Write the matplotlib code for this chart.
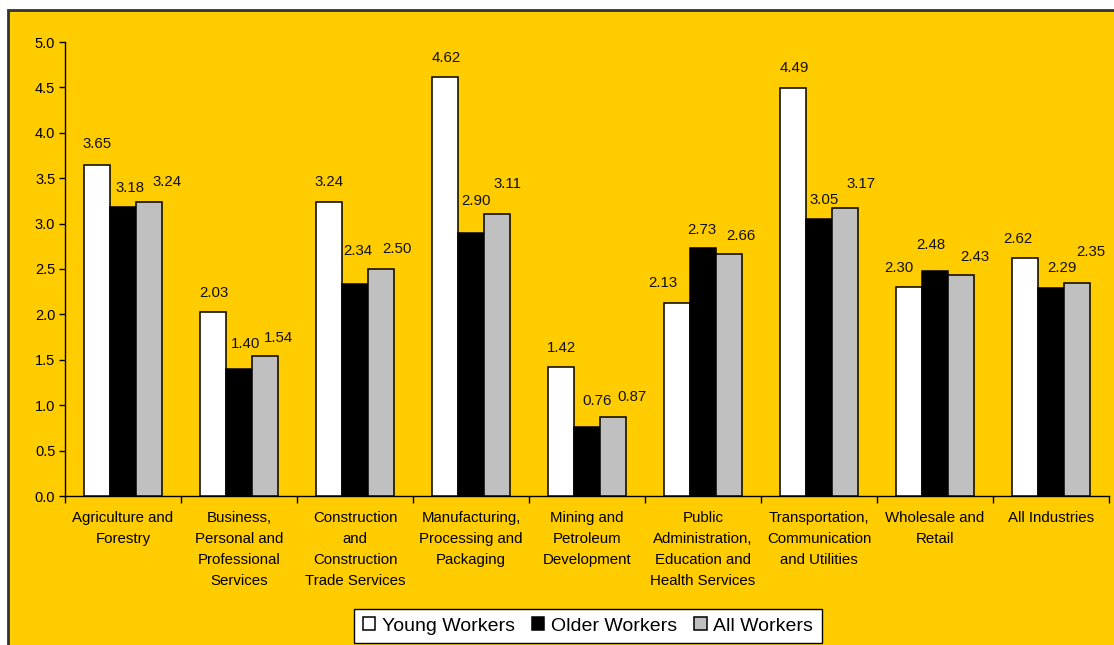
import matplotlib
matplotlib.use("Agg")
import matplotlib.pyplot as plt
from matplotlib.patches import Rectangle
import numpy as np

categories = [
    "Agriculture and\nForestry",
    "Business,\nPersonal and\nProfessional\nServices",
    "Construction\nand\nConstruction\nTrade Services",
    "Manufacturing,\nProcessing and\nPackaging",
    "Mining and\nPetroleum\nDevelopment",
    "Public\nAdministration,\nEducation and\nHealth Services",
    "Transportation,\nCommunication\nand Utilities",
    "Wholesale and\nRetail",
    "All Industries",
]
young = [3.65, 2.03, 3.24, 4.62, 1.42, 2.13, 4.49, 2.30, 2.62]
older = [3.18, 1.40, 2.34, 2.90, 0.76, 2.73, 3.05, 2.48, 2.29]
allw = [3.24, 1.54, 2.50, 3.11, 0.87, 2.66, 3.17, 2.43, 2.35]
series_names = ["Young Workers", "Older Workers", "All Workers"]
yticks = [0.0, 0.5, 1.0, 1.5, 2.0, 2.5, 3.0, 3.5, 4.0, 4.5, 5.0]

# label nudges (pixels: horizontal shift, height of label centre above bar top)
nudge_young = [(0, 21), (1, 19), (0, 20), (1, 19), (0, 19), (-14, 20), (1, 20), (-10, 19), (-7, 19)]
nudge_older = [(7, 19), (7, 25), (3, 33), (5, 32), (10, 26), (-1, 18), (5, 19), (-4, 26), (11, 20)]
nudge_all = [(18, 20), (14, 18), (16, 20), (10, 30), (19, 20), (12, 18), (16, 24), (14, 18), (14, 31)]

plt.rcParams['font.family'] = ['Liberation Sans', 'DejaVu Sans']

W, H = 1114, 645
DPI = 100
fig = plt.figure(figsize=(W / DPI, H / DPI), dpi=DPI)
fig.patch.set_facecolor('white')
# yellow panel with dark border (top and left visible)
fig.patches.append(Rectangle((8 / W, -0.05), 1.2, (H - 10) / H + 0.05,
                             transform=fig.transFigure, facecolor='#FFCC00',
                             edgecolor='#333333', linewidth=2.0, zorder=-10))

ax = fig.add_axes([65 / W, (H - 496) / H, (1109 - 65) / W, (496 - 42) / H])
ax.set_facecolor('none')
ax.set_zorder(1)

n = len(categories)
x = np.arange(n) + 0.5
bw = 0.224
colors = ['white', 'black', '#C0C0C0']
data = [young, older, allw]
nudges = [nudge_young, nudge_older, nudge_all]
px2pt = 72.0 / DPI
for k, (vals, col, name, nd) in enumerate(zip(data, colors, series_names, nudges)):
    pos = x + (k - 1) * bw
    ax.bar(pos, vals, width=bw, color=col, edgecolor='black', linewidth=1.1,
           label=name, zorder=3)
    for p, v, (dx, dy) in zip(pos, vals, nd):
        ax.annotate(f"{v:.2f}", xy=(p, v), xytext=(dx * px2pt, dy * px2pt),
                    textcoords='offset points', ha='center', va='center',
                    fontsize=10.8, color='#111111', zorder=5)

ax.set_xlim(0, n)
ax.set_ylim(0, 5.0)
ax.set_yticks(yticks)
ax.set_yticklabels([f"{t:.1f}" for t in yticks], fontsize=10.5)
ax.tick_params(axis='y', direction='out', length=4, width=1, pad=3)

ax.set_xticks(np.arange(n + 1), minor=True)
ax.set_xticks(x)
ax.set_xticklabels(categories, fontsize=10.8, linespacing=1.62)
ax.tick_params(axis='x', which='major', length=0, pad=11)
ax.tick_params(axis='x', which='minor', direction='out', length=5, width=1)

for s in ['top', 'right']:
    ax.spines[s].set_visible(False)
for s in ['left', 'bottom']:
    ax.spines[s].set_linewidth(1.0)
    ax.spines[s].set_color('black')

leg = fig.legend(loc='center', bbox_to_anchor=(588 / W, 19 / H), ncol=3,
                 fontsize=14, frameon=True, fancybox=False, edgecolor='black',
                 framealpha=1, handlelength=0.65, handleheight=0.65,
                 handletextpad=0.35, columnspacing=0.85, borderpad=0.45,
                 borderaxespad=0)
leg.get_frame().set_linewidth(1.0)
leg.set_zorder(5)

fig.savefig('out.png', dpi=DPI, facecolor=fig.get_facecolor())
